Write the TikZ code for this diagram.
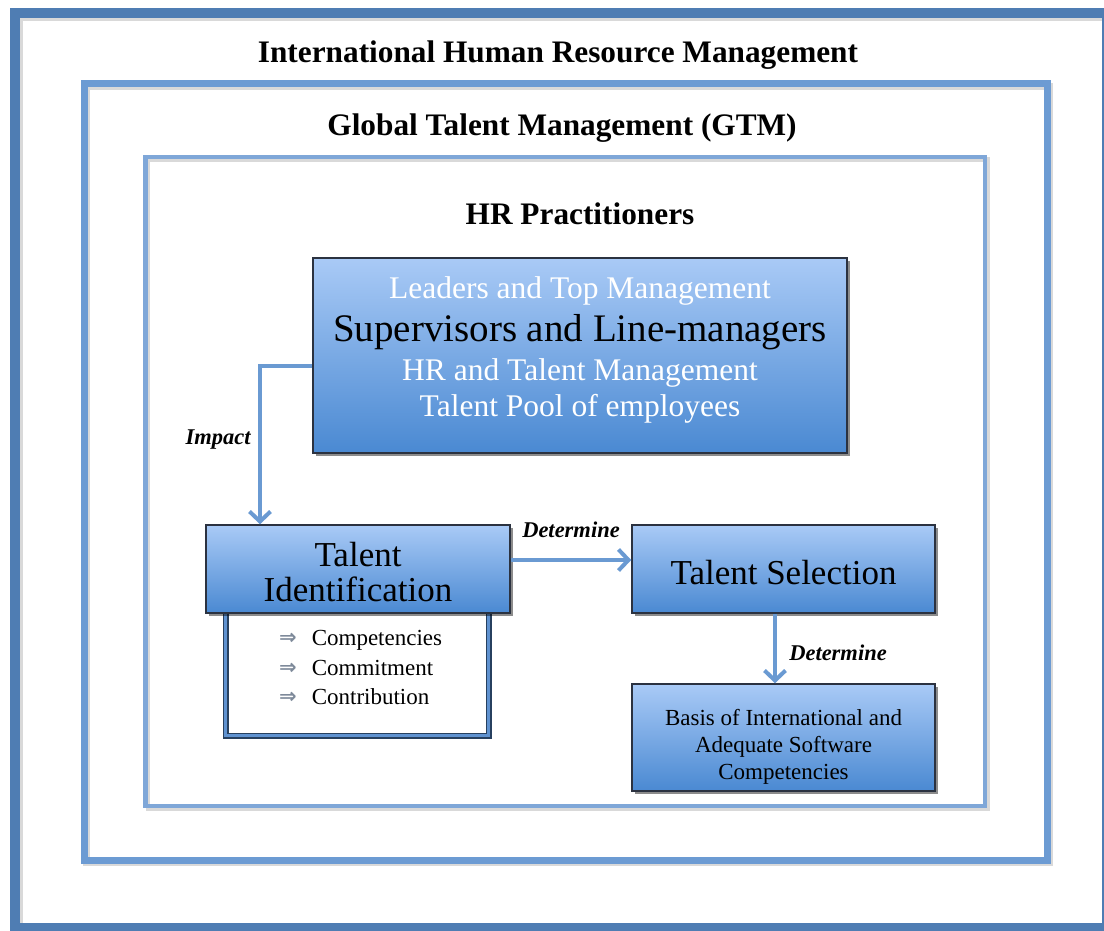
\documentclass[tikz,border=0pt]{standalone}
\usepackage{fontspec}
\setmainfont{Liberation Serif}
\newfontfamily\symfont{DejaVu Sans}
\usetikzlibrary{arrows.meta,shadows}
\definecolor{outerc}{HTML}{4F7DB3}
\definecolor{midc}{HTML}{6C9BD3}
\definecolor{innerc}{HTML}{7FA7D8}
\definecolor{boxtop}{HTML}{A9CAF6}
\definecolor{boxbot}{HTML}{4A89D2}
\definecolor{boxline}{HTML}{2B3240}
\definecolor{arrc}{HTML}{6A9AD2}
\definecolor{subdark}{HTML}{27405F}
\definecolor{subblue}{HTML}{5F92D0}
\definecolor{bulletc}{HTML}{7E8A9A}
\newcommand{\bul}{\raisebox{1pt}{\symfont\bfseries\fontsize{21}{21}\selectfont\color{bulletc}⇒}\hspace{15pt}}
\begin{document}
\begin{tikzpicture}[x=1pt,y=-1pt,
  frame/.style={line width=#1},
  heading/.style={font=\fontsize{31.3}{36}\selectfont\bfseries, inner sep=0pt},
  bluebox/.style={draw=boxline, line width=1.5pt, top color=boxtop, bottom color=boxbot,
    drop shadow={shadow xshift=3pt, shadow yshift=-3pt, opacity=0.45, fill=black},
    inner sep=0pt, align=center},
  arr/.style={draw=arrc, line width=4pt, -{Straight Barb[length=10pt,width=21pt]}},
  lbl/.style={font=\fontsize{22.5}{26}\selectfont\bfseries\itshape, inner sep=0pt},
  whitetxt/.style={text=white, font=\fontsize{31.5}{36}\selectfont, inner sep=0pt},
  item/.style={font=\fontsize{23}{27}\selectfont, inner sep=0pt, anchor=west}
]
\useasboundingbox (0,0) rectangle (1104,931);
\clip (0,0) rectangle (1104,931);
\fill[white] (0,0) rectangle (1104,931);

% frames with soft shadows
\draw[frame=10pt, black, opacity=0.15] (17.5,16) rectangle (1109.5,930.5);
\draw[frame=10pt, outerc] (15,13.5) rectangle (1107,928);
\draw[frame=7pt, black, opacity=0.15] (86.5,86.5) rectangle (1049.5,862.5);
\draw[frame=7pt, midc] (84,83.5) rectangle (1047,860);
\draw[frame=4.5pt, black, opacity=0.15] (148,159.5) rectangle (987.5,808.5);
\draw[frame=4.5pt, innerc] (145.5,157) rectangle (985,806);

% headings
\node[heading] (h1) at (558,55) {International Human Resource Management};
\node[heading] (h2) at (562,128) {Global Talent Management (GTM)};
\node[heading] (h3) at (580,214) {HR Practitioners};

% top box
\node[bluebox, minimum width=534pt, minimum height=195pt] (top) at (580,355.5) {};
\node[whitetxt] (t1) at (580,290.5) {Leaders and Top Management};
\node[font=\fontsize{39}{44}\selectfont, inner sep=0pt] (t2) at (580,332) {Supervisors and Line-managers};
\node[whitetxt] (t3) at (580,372.5) {HR and Talent Management};
\node[whitetxt] (t4) at (580,408.5) {Talent Pool of employees};

% sub box under Talent Identification
\node[draw=subdark, line width=1.5pt, double=subblue, double distance=3pt, fill=white,
  drop shadow={shadow xshift=3pt, shadow yshift=-3pt, opacity=0.35, fill=black},
  minimum width=263pt, minimum height=135pt, inner sep=0pt] (sub) at (357,668) {};
\node[item] (i1) at (279,640) {\bul Competencies};
\node[item] (i2) at (279,668) {\bul Commitment};
\node[item] (i3) at (279,697) {\bul Contribution};

% process boxes
\node[bluebox, minimum width=304pt, minimum height=88pt] (ti) at (358,569) {};
\node[font=\fontsize{35}{35}\selectfont, align=center, inner sep=0pt] (titxt) at (358,572)
  {Talent\\Identification};
\node[bluebox, minimum width=303pt, minimum height=88pt] (ts) at (783.5,569) {};
\node[font=\fontsize{35}{40}\selectfont, inner sep=0pt] (tstxt) at (783.5,573) {Talent Selection};
\node[bluebox, minimum width=303pt, minimum height=107pt] (basis) at (783.5,737.5) {};
\node[font=\fontsize{23}{27}\selectfont, align=center, inner sep=0pt] (btxt) at (783.5,747)
  {Basis of International and\\Adequate Software\\Competencies};

% connectors
\coordinate (bend) at (260,366);
\coordinate (dy) at (0,560);
\coordinate (dx) at (775,0);
\draw[arr] (top.west |- bend) -- (bend) -- (bend |- ti.north);
\draw[arr] (ti.east |- dy) -- (ts.west |- dy);
\draw[arr] (ts.south -| dx) -- (basis.north -| dx);

% labels
\node[lbl] (limpact) at (218,440) {Impact};
\node[lbl] (ldet1) at (571,530) {Determine};
\node[lbl] (ldet2) at (838,653) {Determine};
\end{tikzpicture}
\end{document}
